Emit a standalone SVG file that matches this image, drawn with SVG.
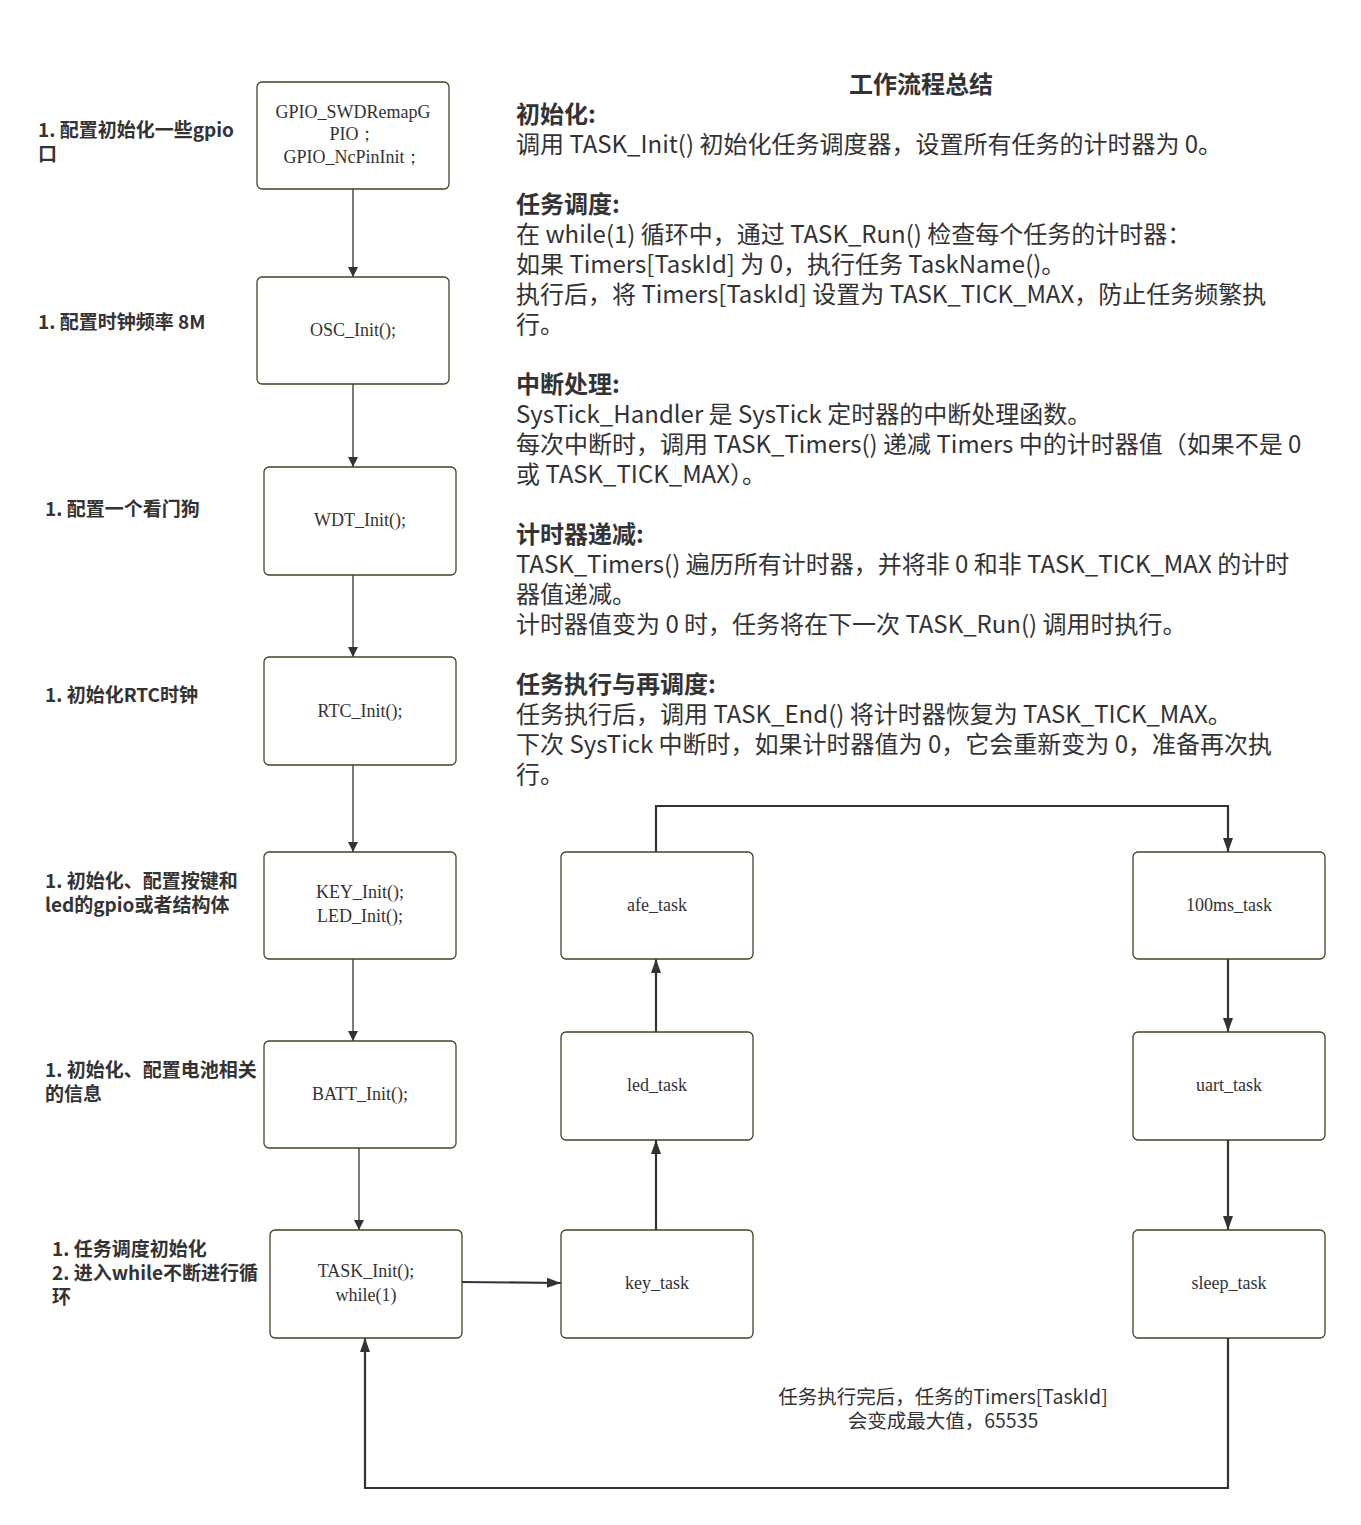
<svg xmlns="http://www.w3.org/2000/svg" width="1361" height="1525" viewBox="0 0 1361 1525">
<defs>
<marker id="ah" viewBox="0 0 10 10" refX="10" refY="5" markerWidth="10" markerHeight="11" markerUnits="userSpaceOnUse" orient="auto"><path d="M0,0 L10,5 L0,10 Z" fill="#333"/></marker>
<marker id="ah2" viewBox="0 0 14 10" refX="14" refY="5" markerWidth="14" markerHeight="12" markerUnits="userSpaceOnUse" orient="auto"><path d="M0,0 L14,5 L0,10 Z" fill="#333"/></marker>
<style>
.box{fill:#fff;stroke:#4a3f28;stroke-width:1.3}
.bt{font-family:"Liberation Serif","Times New Roman",serif;font-size:18px;fill:#333;text-anchor:middle}
.lbl{font-family:"Noto Sans CJK SC","Noto Sans",sans-serif;font-size:19px;font-weight:bold;fill:#333}
.h{font-family:"Noto Sans CJK SC","Noto Sans",sans-serif;font-size:24px;font-weight:bold;fill:#333}
.t{font-family:"Noto Sans CJK SC","Noto Sans",sans-serif;font-size:24px;fill:#333}
.note{font-family:"Noto Sans CJK SC","Noto Sans",sans-serif;font-size:19.5px;fill:#333;text-anchor:middle}
.c1{fill:none;stroke:#333;stroke-width:1.3;marker-end:url(#ah)}
.c2{fill:none;stroke:#333;stroke-width:2.2;marker-end:url(#ah2)}
</style>
</defs>
<rect width="1361" height="1525" fill="#fff"/>

<g id="summary">
<text class="h" x="921" y="93" text-anchor="middle">工作流程总结</text>
<text class="h" x="516" y="123">初始化:</text>
<text class="t" x="516" y="153">调用 TASK_Init() 初始化任务调度器，设置所有任务的计时器为 0。</text>
<text class="h" x="516" y="213">任务调度:</text>
<text class="t" x="516" y="243">在 while(1) 循环中，通过 TASK_Run() 检查每个任务的计时器：</text>
<text class="t" x="516" y="273">如果 Timers[TaskId] 为 0，执行任务 TaskName()。</text>
<text class="t" x="516" y="303">执行后，将 Timers[TaskId] 设置为 TASK_TICK_MAX，防止任务频繁执</text>
<text class="t" x="516" y="333">行。</text>
<text class="h" x="516" y="393">中断处理:</text>
<text class="t" x="516" y="423">SysTick_Handler 是 SysTick 定时器的中断处理函数。</text>
<text class="t" x="516" y="453">每次中断时，调用 TASK_Timers() 递减 Timers 中的计时器值（如果不是 0</text>
<text class="t" x="516" y="483">或 TASK_TICK_MAX）。</text>
<text class="h" x="516" y="543">计时器递减:</text>
<text class="t" x="516" y="573">TASK_Timers() 遍历所有计时器，并将非 0 和非 TASK_TICK_MAX 的计时</text>
<text class="t" x="516" y="603">器值递减。</text>
<text class="t" x="516" y="633">计时器值变为 0 时，任务将在下一次 TASK_Run() 调用时执行。</text>
<text class="h" x="516" y="693">任务执行与再调度:</text>
<text class="t" x="516" y="723">任务执行后，调用 TASK_End() 将计时器恢复为 TASK_TICK_MAX。</text>
<text class="t" x="516" y="753">下次 SysTick 中断时，如果计时器值为 0，它会重新变为 0，准备再次执</text>
<text class="t" x="516" y="783">行。</text>
</g>

<g id="labels">
<text class="lbl" x="38" y="137">1. 配置初始化一些gpio</text>
<text class="lbl" x="38" y="161">口</text>
<text class="lbl" x="38" y="329">1. 配置时钟频率 8M</text>
<text class="lbl" x="45" y="516">1. 配置一个看门狗</text>
<text class="lbl" x="45" y="702">1. 初始化RTC时钟</text>
<text class="lbl" x="45" y="888">1. 初始化、配置按键和</text>
<text class="lbl" x="45" y="912">led的gpio或者结构体</text>
<text class="lbl" x="45" y="1077">1. 初始化、配置电池相关</text>
<text class="lbl" x="45" y="1101">的信息</text>
<text class="lbl" x="52" y="1256">1. 任务调度初始化</text>
<text class="lbl" x="52" y="1280">2. 进入while不断进行循</text>
<text class="lbl" x="52" y="1304">环</text>
<text class="note" x="943" y="1404">任务执行完后，任务的Timers[TaskId]</text>
<text class="note" x="943" y="1428">会变成最大值，65535</text>
</g>

<g id="connectors">
<line class="c1" x1="353" y1="189" x2="353" y2="277"/>
<line class="c1" x1="353" y1="384" x2="353" y2="467"/>
<line class="c1" x1="353" y1="575" x2="353" y2="657"/>
<line class="c1" x1="353" y1="765" x2="353" y2="852"/>
<line class="c1" x1="353" y1="959" x2="353" y2="1041"/>
<line class="c1" x1="359" y1="1148" x2="359" y2="1230"/>
<line class="c2" x1="462" y1="1282" x2="561" y2="1283"/>
<line class="c2" x1="656" y1="1230" x2="656" y2="1140"/>
<line class="c2" x1="656" y1="1032" x2="656" y2="959"/>
<polyline class="c2" points="656,852 656,806 1228,806 1228,852"/>
<line class="c2" x1="1228" y1="959" x2="1228" y2="1032"/>
<line class="c2" x1="1228" y1="1140" x2="1228" y2="1230"/>
<polyline class="c2" points="1228,1338 1228,1488 365,1488 365,1338"/>
</g>

<g id="n-gpio"><rect class="box" x="257" y="82" width="192" height="107" rx="5"/>
<text class="bt" x="353" y="118">GPIO_SWDRemapG</text><text class="bt" x="353" y="140">PIO；</text><text class="bt" x="353" y="163">GPIO_NcPinInit；</text></g>
<g id="n-osc"><rect class="box" x="257" y="277" width="192" height="107" rx="5"/><text class="bt" x="353" y="336">OSC_Init();</text></g>
<g id="n-wdt"><rect class="box" x="264" y="467" width="192" height="108" rx="5"/><text class="bt" x="360" y="526">WDT_Init();</text></g>
<g id="n-rtc"><rect class="box" x="264" y="657" width="192" height="108" rx="5"/><text class="bt" x="360" y="717">RTC_Init();</text></g>
<g id="n-key"><rect class="box" x="264" y="852" width="192" height="107" rx="5"/><text class="bt" x="360" y="898">KEY_Init();</text><text class="bt" x="360" y="922">LED_Init();</text></g>
<g id="n-batt"><rect class="box" x="264" y="1041" width="192" height="107" rx="5"/><text class="bt" x="360" y="1100">BATT_Init();</text></g>
<g id="n-task"><rect class="box" x="270" y="1230" width="192" height="108" rx="5"/><text class="bt" x="366" y="1277">TASK_Init();</text><text class="bt" x="366" y="1301">while(1)</text></g>
<g id="n-keytask"><rect class="box" x="561" y="1230" width="192" height="108" rx="5"/><text class="bt" x="657" y="1289">key_task</text></g>
<g id="n-ledtask"><rect class="box" x="561" y="1032" width="192" height="108" rx="5"/><text class="bt" x="657" y="1091">led_task</text></g>
<g id="n-afetask"><rect class="box" x="561" y="852" width="192" height="107" rx="5"/><text class="bt" x="657" y="911">afe_task</text></g>
<g id="n-100ms"><rect class="box" x="1133" y="852" width="192" height="107" rx="5"/><text class="bt" x="1229" y="911">100ms_task</text></g>
<g id="n-uart"><rect class="box" x="1133" y="1032" width="192" height="108" rx="5"/><text class="bt" x="1229" y="1091">uart_task</text></g>
<g id="n-sleep"><rect class="box" x="1133" y="1230" width="192" height="108" rx="5"/><text class="bt" x="1229" y="1289">sleep_task</text></g>
</svg>
